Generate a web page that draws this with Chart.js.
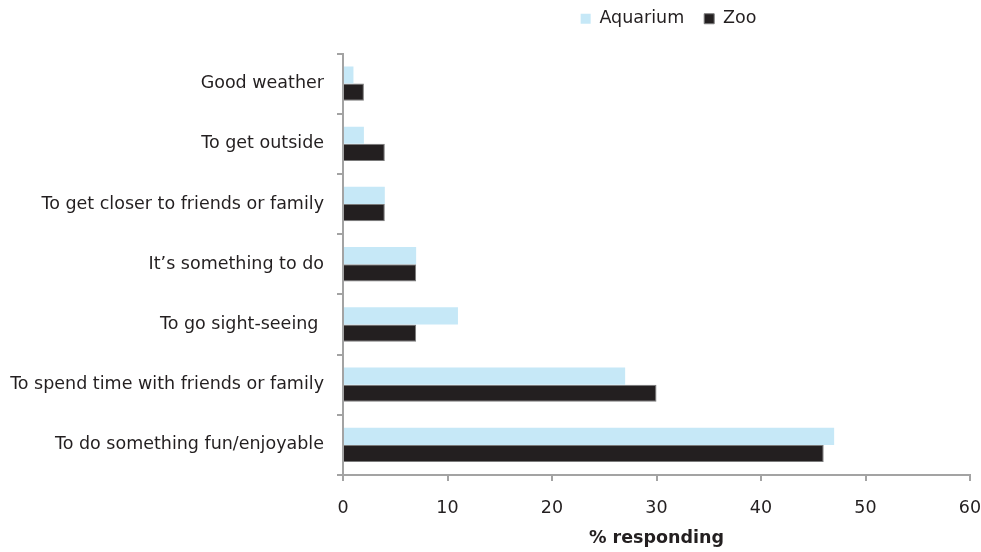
<!DOCTYPE html>
<html>
<head>
<meta charset="utf-8">
<script src="https://cdn.jsdelivr.net/npm/chart.js@4/dist/chart.umd.min.js"></script>
<style>
  html, body { margin: 0; padding: 0; background: #fff; }
  #wrap { width: 981px; height: 552px; position: relative; }
</style>
</head>
<body>
<div id="wrap"><canvas id="chart"></canvas></div>
<script>
// reasons for visiting, % responding
const reasons = [
  "Good weather",
  "To get outside",
  "To get closer to friends or family",
  "It\u2019s something to do",
  "To go sight-seeing ",
  "To spend time with friends or family",
  "To do something fun/enjoyable"
];
const aquarium = [1, 2, 4, 7, 11, 27, 47];
const zoo = [2, 4, 4, 7, 7, 30, 46];
const xTicks = [0, 10, 20, 30, 40, 50, 60];

const ink = "#231f20";
const axisGrey = "#a3a3a3";
const fontFamily = "'DejaVu Sans', sans-serif";

// keep the legend over the plot area instead of the whole canvas
const legendPlacer = {
  id: "legendPlacer",
  afterLayout(chart) {
    const lg = chart.legend;
    const area = chart.chartArea;
    const h = lg.height;
    lg.left = area.left + 12;
    lg.right = area.right + 12;
    lg.width = lg.right - lg.left;
    lg.top = -10;
    lg.bottom = lg.top + h;
  }
};

const ctx = document.getElementById("chart").getContext("2d");
new Chart(ctx, {
  type: "bar",
  data: {
    labels: reasons,
    datasets: [
      {
        label: "Aquarium",
        data: aquarium,
        backgroundColor: "#c6e8f7",
        borderWidth: 0
      },
      {
        label: "Zoo",
        data: zoo,
        backgroundColor: ink,
        borderColor: "#7a7a7a",
        borderWidth: 1
      }
    ]
  },
  options: {
    indexAxis: "y",
    responsive: true,
    maintainAspectRatio: false,
    animation: false,
    categoryPercentage: 0.57,
    barPercentage: 1.0,
    layout: { padding: { top: 6, right: 0, bottom: 0, left: 0 } },
    scales: {
      x: {
        min: 0,
        max: 60,
        afterBuildTicks: (scale) => {
          scale.ticks = xTicks.map((v) => ({ value: v }));
        },
        afterFit: (scale) => {
          scale.height = 77;
          // only room for half of the last tick label on the right
          scale.paddingLeft = 0;
          scale.paddingRight = 11;
        },
        grid: {
          drawOnChartArea: false,
          drawTicks: true,
          tickLength: 6,
          color: axisGrey,
          lineWidth: 2
        },
        border: { color: axisGrey, width: 2 },
        ticks: {
          color: ink,
          padding: 17,
          font: { family: fontFamily, size: 17.5 }
        },
        title: {
          display: true,
          text: "% responding",
          color: ink,
          padding: { top: 0, bottom: 3 },
          font: { family: fontFamily, size: 17.5, weight: "bold" }
        }
      },
      y: {
        afterFit: (scale) => { scale.width = 343; },
        grid: {
          drawOnChartArea: false,
          drawTicks: true,
          tickLength: 6,
          color: axisGrey,
          lineWidth: 2
        },
        border: { color: axisGrey, width: 2 },
        ticks: {
          color: ink,
          padding: 13,
          font: { family: fontFamily, size: 17.5 }
        }
      }
    },
    plugins: {
      legend: {
        position: "top",
        align: "center",
        labels: {
          color: ink,
          boxWidth: 10,
          boxHeight: 10,
          padding: 20,
          font: { family: fontFamily, size: 17.5 }
        }
      },
      tooltip: { enabled: false }
    }
  },
  plugins: [legendPlacer]
});
</script>
</body>
</html>
